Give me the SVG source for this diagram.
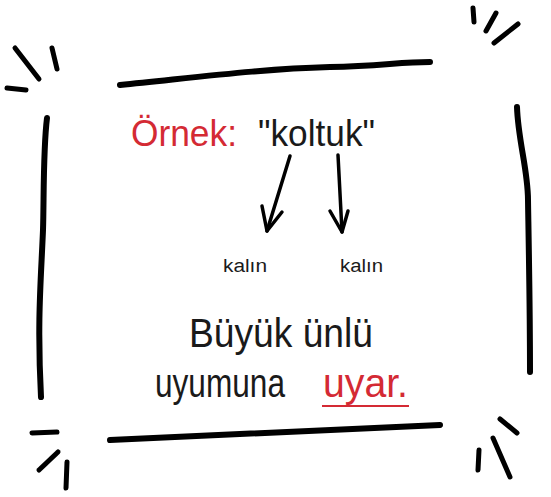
<svg xmlns="http://www.w3.org/2000/svg" width="551" height="497" viewBox="0 0 551 497">
<style>
.stroke{fill:none;stroke:#000;stroke-linecap:round;stroke-linejoin:round}
.frame{stroke-width:6}
.tick{stroke-width:5}
.arrow{stroke-width:3.5}
.t{font-family:"Liberation Sans",Arial,sans-serif;fill:#1a1a1a}
.red{fill:#d42a34}
</style>
<rect width="551" height="497" fill="#fff"/>
<g id="frame" class="stroke frame">
<path d="M120,85 C200,77 260,69 330,67 C380,66 400,62 430,62"/>
<path d="M110,440 C200,436 300,432 440,425"/>
<path d="M47,118 C43,150 44,200 43,230 C41,280 37,320 41,397"/>
<path d="M517,107 C518,140 528,170 528,200 C529,260 530,310 530,372"/>
</g>
<g id="ticks" class="stroke tick">
<path d="M15,48 L39,79"/>
<path d="M52,48 L57,69"/>
<path d="M7,88 L26,90"/>
<path d="M473,8 L474,22"/>
<path d="M496,13 L486,31"/>
<path d="M518,24 L494,43"/>
<path d="M32,433 L57,432"/>
<path d="M39,470 L58,452"/>
<path d="M67,462 L66,488"/>
<path d="M500,419 L517,433"/>
<path d="M493,438 L510,477"/>
<path d="M479,450 L478,470"/>
</g>
<g id="title">
<text class="t red" x="131" y="146" font-size="36" textLength="106" lengthAdjust="spacingAndGlyphs">Örnek:</text>
<text class="t" x="258" y="146" font-size="36" textLength="117" lengthAdjust="spacingAndGlyphs">"koltuk"</text>
</g>
<g id="connectors" class="stroke arrow">
<path d="M290,156 L267,231"/>
<path d="M262,206 L267,231 L282,212"/>
<path d="M338,155 L342,232"/>
<path d="M330,211 L342,232 L348,211"/>
</g>
<g id="label1"><text class="t" x="223" y="272" font-size="18" textLength="44" lengthAdjust="spacingAndGlyphs">kalın</text></g>
<g id="label2"><text class="t" x="340" y="272" font-size="18" textLength="43" lengthAdjust="spacingAndGlyphs">kalın</text></g>
<g id="conclusion">
<text class="t" x="189" y="347" font-size="40" textLength="184" lengthAdjust="spacingAndGlyphs">Büyük ünlü</text>
<text class="t" x="155" y="397" font-size="40" textLength="130" lengthAdjust="spacingAndGlyphs">uyumuna</text>
<text class="t red" x="323" y="397" font-size="40" textLength="85" lengthAdjust="spacingAndGlyphs">uyar.</text>
<path d="M322,406 L409,406" stroke="#d42a34" stroke-width="2" fill="none"/>
</g>
</svg>
